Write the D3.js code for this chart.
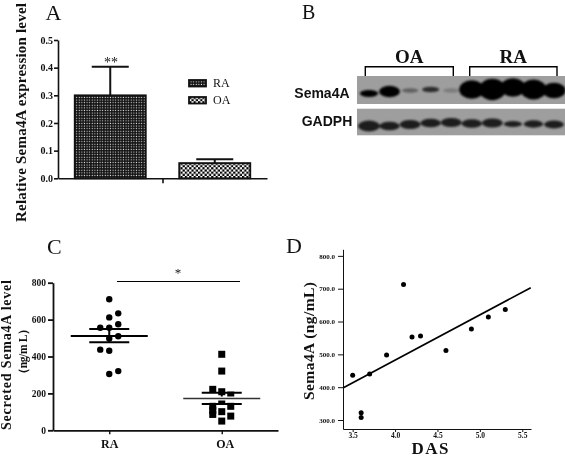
<!DOCTYPE html>
<html><head><meta charset="utf-8">
<script src="https://cdn.jsdelivr.net/npm/d3@7"></script>
<style>
html,body{margin:0;padding:0;background:#fff}
svg{display:block;filter:blur(0.3px)}
text{font-family:"Liberation Serif",serif;fill:#111}
.sans{font-family:"Liberation Sans",sans-serif}
</style></head><body>
<svg id="c" width="565" height="458"></svg>
<script>
// Panel A
const groupsA = ["RA","OA"];
const meansA = [0.30,0.055];
const errorsA = [0.103,0.014];
const ticksA = [0,0.1,0.2,0.3,0.4,0.5];
// Panel B
const lanes = [1,2,3,4,5,6,7,8,9,10];
const sema4aLevel = [0.52,0.85,0.34,0.42,0.32,1.4,1.6,1.4,1.5,1.15];
const sema4aDark = [1,1,0.4,0.72,0.22,1,1,1,1,1];
const sema4aShift = [4,2,1,0,1,0,0,-2,0,1];
const gadphLevel = [1.0,0.8,0.85,0.8,0.85,0.8,0.85,0.55,0.68,0.72];
const gadphShift = [3,3,1.5,0,-0.5,0.5,0,1,1,1.5];
// Panel C
const groupsC = ["RA","OA"];
const raValues = [710,634,612,575,556,556,510,498,437,431,305,321];
const raSlots  = [0,1,0,1,-1,0,1,0,-1,0,0,1];
const oaValues = [412,321,222,209,191,160,130,130,108,86,101,77,50];
const oaSlots  = [0,0,-1,0,1,0,1,-1,-1,-1,0,1,0];
const meanC = [511,173];
const upperC = [549,204];
const lowerC = [477,143];
const ticksC = [0,200,400,600,800];
// Panel D
const das = [3.5,3.6,3.6,3.7,3.9,4.1,4.2,4.3,4.6,4.9,5.1,5.3];
const sema = [436,322,308,440,498,713,553,556,512,577,614,637];
const fitX = [3.39,5.6];
const fitY = [398,703];
const ticksDx = [3.5,4.0,4.5,5.0,5.5];
const ticksDy = [300,400,500,600,700,800];

const svg = d3.select("#c");
const defs = svg.append("defs");
const p1 = defs.append("pattern").attr("id","pRA").attr("patternUnits","userSpaceOnUse").attr("width",2.6).attr("height",2.6);
p1.append("rect").attr("width",2.6).attr("height",2.6).attr("fill","#111");
p1.append("rect").attr("x",0.7).attr("y",0.7).attr("width",1.1).attr("height",1.1).attr("fill","#ddd");
const p2 = defs.append("pattern").attr("id","pOA").attr("patternUnits","userSpaceOnUse").attr("width",4.4).attr("height",4.4);
p2.append("rect").attr("width",4.4).attr("height",4.4).attr("fill","#fff");
p2.append("rect").attr("width",2.2).attr("height",2.2).attr("fill","#000");
p2.append("rect").attr("x",2.2).attr("y",2.2).attr("width",2.2).attr("height",2.2).attr("fill","#000");
defs.append("filter").attr("id","soft").attr("x","-30%").attr("y","-60%").attr("width","160%").attr("height","220%")
  .append("feGaussianBlur").attr("stdDeviation",0.9);

function label(x,y,t,size,opts={}){
  const s = svg.append("text").attr("x",x).attr("y",y).text(t).attr("font-size",size);
  if(opts.bold) s.attr("font-weight","bold");
  if(opts.anchor) s.attr("text-anchor",opts.anchor);
  if(opts.sans) s.attr("class","sans");
  if(opts.rotate) s.attr("transform",`rotate(-90 ${x} ${y})`);
  return s;
}
function styleAxis(g,w,tickW,font){
  g.select(".domain").attr("stroke","#111").attr("stroke-width",w);
  g.selectAll(".tick line").attr("stroke","#111").attr("stroke-width",tickW);
  g.selectAll(".tick text").attr("font-size",font).attr("font-weight","bold").attr("font-family","Liberation Serif").attr("fill","#111");
}

// ---------- A
label(45.5,20,"A",22);
const xA = d3.scaleBand().domain(groupsA).range([58,267]).paddingInner(0.32).paddingOuter(0.16);
const yA = d3.scaleLinear().domain([0,0.5]).range([178.3,40]);
const pats = ["url(#pRA)","url(#pOA)"];
groupsA.forEach((g,i)=>{
  svg.append("rect").attr("x",xA(g)).attr("y",yA(meansA[i])).attr("width",xA.bandwidth()).attr("height",yA(0)-yA(meansA[i]))
    .attr("fill",pats[i]).attr("stroke","#111").attr("stroke-width",1.8);
  const cx = xA(g)+xA.bandwidth()/2, top = yA(meansA[i]+errorsA[i]);
  svg.append("line").attr("x1",cx).attr("x2",cx).attr("y1",yA(meansA[i])).attr("y2",top).attr("stroke","#111").attr("stroke-width",2);
  svg.append("line").attr("x1",cx-18.5).attr("x2",cx+18.5).attr("y1",top).attr("y2",top).attr("stroke","#111").attr("stroke-width",2);
});
const axLA = svg.append("g").attr("transform","translate(58,0)").call(d3.axisLeft(yA).tickValues(ticksA).tickFormat(d3.format(".1f")).tickSize(4).tickSizeOuter(0).tickPadding(1));
styleAxis(axLA,1.6,1.6,10);
const axBA = svg.append("g").attr("transform",`translate(0,${yA(0)})`).call(d3.axisBottom(d3.scaleLinear().domain([0,1]).range([58,267])).tickValues([0.5]).tickFormat("").tickSize(5).tickSizeOuter(0));
styleAxis(axBA,1.6,1.6,9);
label(111,67,"**",14,{anchor:"middle"});
label(26,222,"Relative Sema4A expression level",15,{bold:true,rotate:true}).attr("textLength",219).attr("lengthAdjust","spacing");
["RA","OA"].forEach((g,i)=>{
  const y = 80+i*17;
  svg.append("rect").attr("x",189).attr("y",y).attr("width",17).attr("height",6.5).attr("fill",pats[i]).attr("stroke","#111").attr("stroke-width",1.8);
  label(213,y+7,g,12);
});

// ---------- B
label(302,18.5,"B",20);
const xLane = d3.scalePoint().domain(lanes).range([369,554]);
const bandRx = d3.scaleLinear().domain([0,1]).range([7,11]);
const bandRy = d3.scaleLinear().domain([0,1.5]).range([0,10]);
function blot(y0,y1,levels,dark,shifts,yc,rxs,rys){
  svg.append("rect").attr("x",357).attr("y",y0).attr("width",208).attr("height",y1-y0).attr("fill","#9e9e9e");
  const clipId="clip"+Math.round(y0);
  defs.append("clipPath").attr("id",clipId).append("rect").attr("x",357).attr("y",y0).attr("width",208).attr("height",y1-y0);
  const g = svg.append("g").attr("clip-path",`url(#${clipId})`).append("g").attr("filter","url(#soft)");
  lanes.forEach((l,i)=>{
    g.append("ellipse").attr("cx",xLane(l)).attr("cy",yc+shifts[i])
      .attr("rx",rxs(levels[i])).attr("ry",rys(levels[i]))
      .attr("fill","#030303").attr("opacity",dark[i]);
  });
}
blot(76,104,sema4aLevel,sema4aDark,sema4aShift,89.5,bandRx,bandRy);
blot(108.7,135.3,gadphLevel,gadphLevel.map(()=>0.82),gadphShift,123,bandRx,d3.scaleLinear().domain([0,1]).range([0,5.4]));
function bracket(x0,x1,t){
  svg.append("path").attr("d",d3.line()([[x0,76],[x0,66.7],[x1,66.7],[x1,76]])).attr("fill","none").attr("stroke","#000").attr("stroke-width",1.4);
  label((x0+x1)/2,63,t,19,{bold:true,anchor:"middle"});
}
bracket(365.3,453.3,"OA");
bracket(469.7,557,"RA");
label(294.3,98,"Sema4A",14,{bold:true,sans:true});
label(301.7,126,"GADPH",14,{bold:true,sans:true});

// ---------- C
label(47,254,"C",22);
const xC = d3.scalePoint().domain(groupsC).range([53,278]).padding(0.5);
const yC = d3.scaleLinear().domain([0,800]).range([430.3,282.7]);
const slot = d3.scaleLinear().domain([-1,1]).range([-9,9]);
raValues.forEach((v,i)=>{
  svg.append("circle").attr("cx",xC("RA")+slot(raSlots[i])).attr("cy",yC(v)).attr("r",3.2).attr("fill","#000");
});
oaValues.forEach((v,i)=>{
  svg.append("rect").attr("x",xC("OA")+slot(oaSlots[i])-3.5).attr("y",yC(v)-3.5).attr("width",7).attr("height",7).attr("fill","#000");
});
groupsC.forEach((g,i)=>{
  const cx = xC(g);
  [[upperC[i],20],[lowerC[i],20]].forEach(([v,hw])=>{
    svg.append("line").attr("x1",cx-hw).attr("x2",cx+hw).attr("y1",yC(v)).attr("y2",yC(v)).attr("stroke","#000").attr("stroke-width",2);
  });
  svg.append("line").attr("x1",cx).attr("x2",cx).attr("y1",yC(upperC[i])).attr("y2",yC(lowerC[i])).attr("stroke","#000").attr("stroke-width",2);
  if(g==="OA"){
    svg.append("line").attr("x1",cx-38.5).attr("x2",cx+38.5).attr("y1",yC(meanC[i])).attr("y2",yC(meanC[i])).attr("stroke","#fff").attr("stroke-width",4);
    svg.append("line").attr("x1",cx-38.5).attr("x2",cx+38.5).attr("y1",yC(meanC[i])).attr("y2",yC(meanC[i])).attr("stroke","#333").attr("stroke-width",1.5);
  } else {
    svg.append("line").attr("x1",cx-38.5).attr("x2",cx+38.5).attr("y1",yC(meanC[i])).attr("y2",yC(meanC[i])).attr("stroke","#000").attr("stroke-width",2);
  }
});
const axLC = svg.append("g").attr("transform","translate(53,0)").call(d3.axisLeft(yC).tickValues(ticksC).tickFormat(d3.format("d")).tickSize(5).tickSizeOuter(0).tickPadding(2));
styleAxis(axLC,1.8,1.8,9.5);
const axBC = svg.append("g").attr("transform",`translate(0,${yC(0)})`).call(d3.axisBottom(xC).tickSize(4).tickSizeOuter(0).tickPadding(5));
styleAxis(axBC,1.8,1.4,12);
axBC.selectAll(".tick text").filter(d=>d==="OA").attr("dx",3);
svg.append("line").attr("x1",117).attr("x2",240).attr("y1",281.5).attr("y2",281.5).attr("stroke","#000").attr("stroke-width",1.2);
label(178,277,"*",13,{anchor:"middle"});
label(10.7,430,"Secreted Sema4A level",14,{bold:true,rotate:true}).attr("textLength",150).attr("lengthAdjust","spacing");
label(27,380,"（ng/m L）",11.5,{bold:true,rotate:true}).attr("textLength",57).attr("lengthAdjust","spacing");

// ---------- D
label(286,253,"D",22);
const xD = d3.scaleLinear().domain([3.386,5.603]).range([343,531]);
const yD = d3.scaleLinear().domain([272.6,820]).range([429,249.3]);
const axLD = svg.append("g").attr("transform","translate(343,0)").call(d3.axisLeft(yD).tickValues(ticksDy).tickFormat(d3.format(".1f")).tickSize(5).tickSizeOuter(0).tickPadding(3));
styleAxis(axLD,1,1,7);
const axBD = svg.append("g").attr("transform","translate(0,429)").call(d3.axisBottom(xD).tickValues(ticksDx).tickFormat(d3.format(".1f")).tickSize(3).tickSizeOuter(0).tickPadding(1));
styleAxis(axBD,1,1,7.5);
svg.append("path").attr("d",d3.line().x((d,i)=>xD(fitX[i])).y((d,i)=>yD(fitY[i]))(fitX)).attr("stroke","#000").attr("stroke-width",1.7).attr("fill","none");
das.forEach((v,i)=>{
  svg.append("circle").attr("cx",xD(v)).attr("cy",yD(sema[i])).attr("r",2.5).attr("fill","#000");
});
label(314,400,"Sema4A (ng/mL)",15.5,{bold:true,rotate:true}).attr("textLength",118).attr("lengthAdjust","spacing");
label(430,454,"DAS",17,{bold:true,anchor:"middle"}).attr("textLength",37).attr("lengthAdjust","spacing");
</script>
</body></html>
